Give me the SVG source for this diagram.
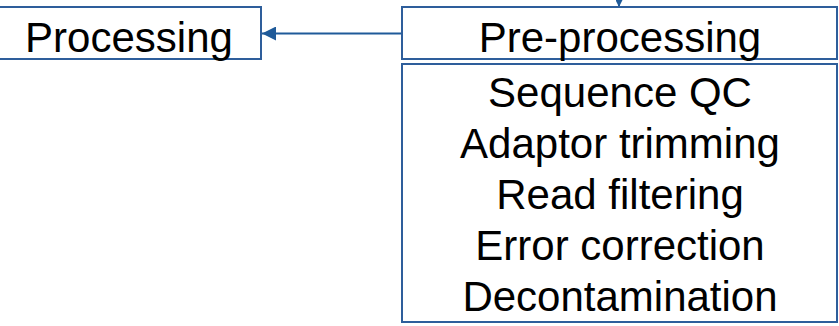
<svg xmlns="http://www.w3.org/2000/svg" width="839" height="326" viewBox="0 0 839 326">
  <style>
    .box { fill: #ffffff; stroke: #2E5E9B; stroke-width: 2; }
    .lbl { font-family: "Liberation Sans", Arial, sans-serif; font-size: 42px; fill: #000000; text-anchor: middle; }
    .conn { stroke: #1F5A99; stroke-width: 2; fill: none; }
  </style>
  <defs>
    <marker id="arrow" viewBox="0 0 10 10" refX="10" refY="5" markerWidth="7.5" markerHeight="7" orient="auto" markerUnits="userSpaceOnUse">
      <path d="M0,0 L10,5 L0,10 Z" fill="#1F5A99"/>
    </marker>
    <marker id="arrowBig" viewBox="0 0 10 10" refX="10" refY="5" markerWidth="15" markerHeight="14" orient="auto" markerUnits="userSpaceOnUse">
      <path d="M0,0 L10,5 L0,10 Z" fill="#1F5A99"/>
    </marker>
  </defs>

  <g id="connectors">
    <path class="conn" d="M619,-10 L619,7" marker-end="url(#arrow)"/>
    <path class="conn" d="M402,33.5 L262,33.5" marker-end="url(#arrowBig)"/>
  </g>

  <g id="processing">
    <rect class="box" x="-3" y="7" width="264" height="52"/>
    <text class="lbl" x="129" y="51.5">Processing</text>
  </g>

  <g id="pre-processing">
    <rect class="box" x="402" y="7" width="435" height="52"/>
    <text class="lbl" x="620" y="51.5">Pre-processing</text>
  </g>

  <g id="pre-processing-steps">
    <rect class="box" x="402" y="64" width="435" height="258"/>
    <text class="lbl" x="620" y="107">Sequence QC</text>
    <text class="lbl" x="620" y="158">Adaptor trimming</text>
    <text class="lbl" x="620" y="209">Read filtering</text>
    <text class="lbl" x="620" y="260">Error correction</text>
    <text class="lbl" x="620" y="311">Decontamination</text>
  </g>
</svg>
